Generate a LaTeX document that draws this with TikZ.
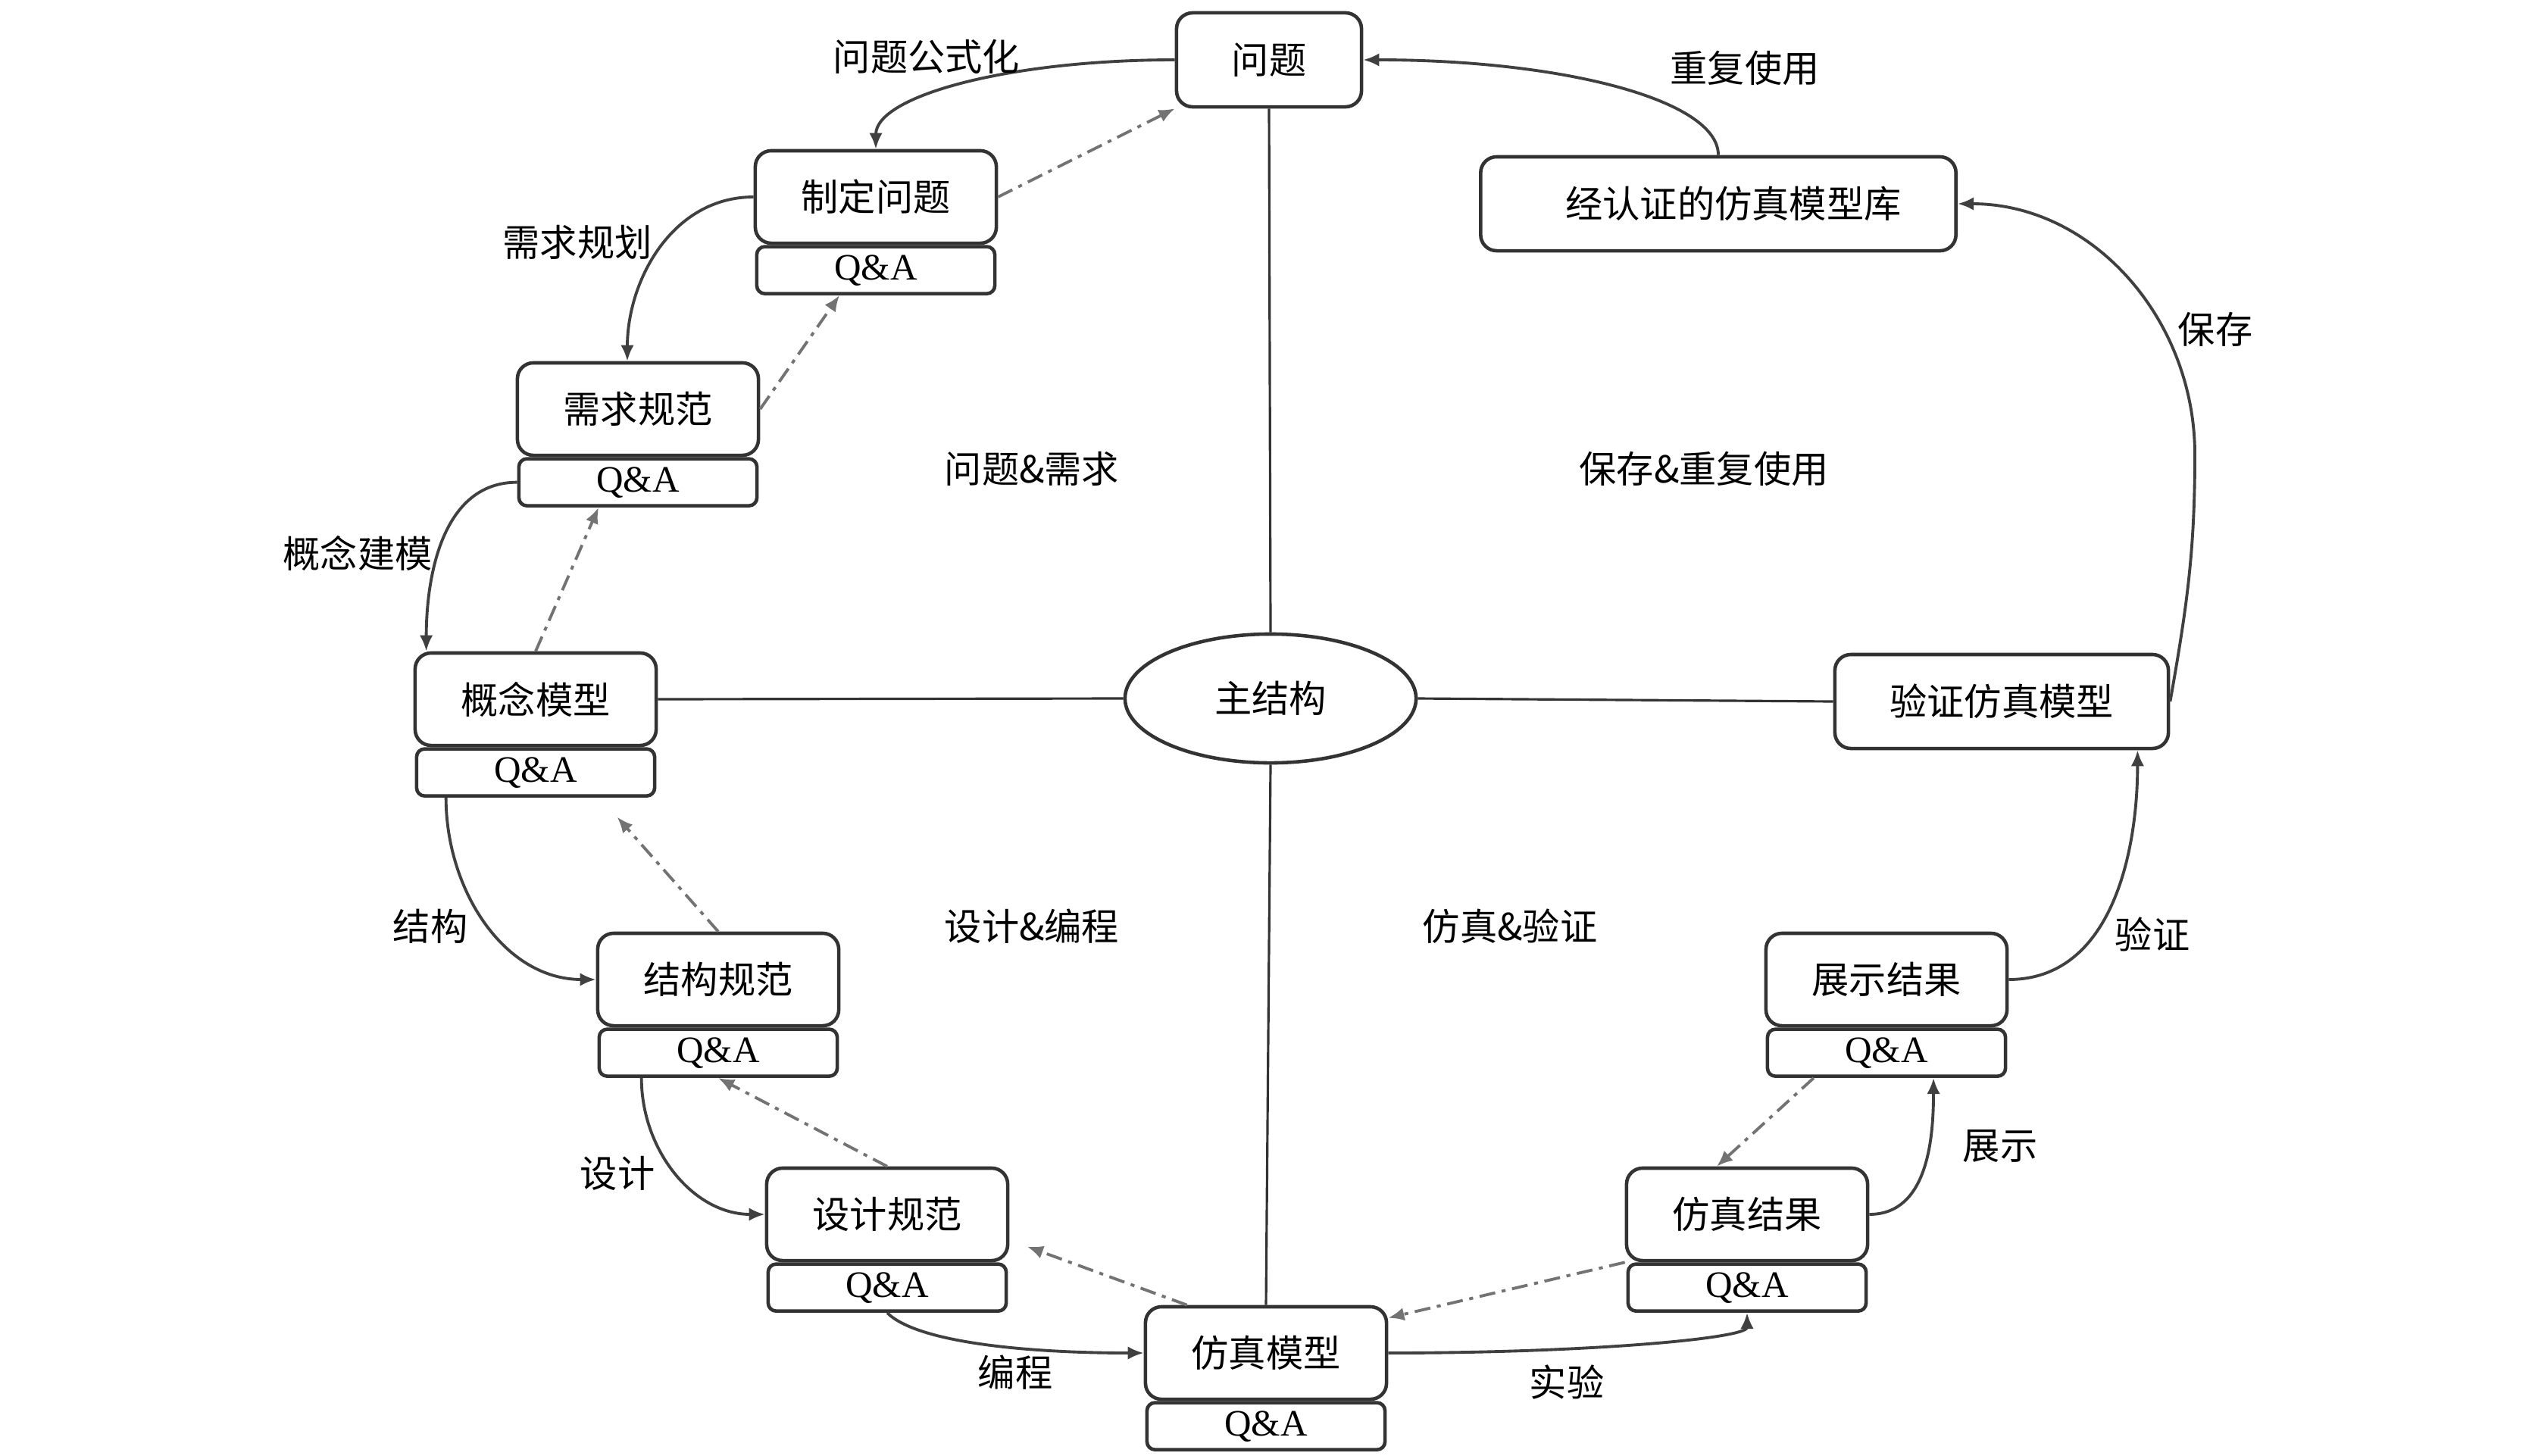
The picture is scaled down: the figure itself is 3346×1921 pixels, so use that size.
\documentclass[tikz,border=0pt]{standalone}
\usepackage{fontspec}
\usepackage{tikz}
\usetikzlibrary{positioning,shapes.geometric,arrows.meta}
\setmainfont{Liberation Serif}
\newfontfamily\cjkfont{Noto Sans CJK SC}

\tikzset{
  box/.style={draw=black!80, line width=1.3pt, rounded corners=6pt, fill=white,
    minimum width=3.18cm, minimum height=1.22cm, inner sep=0pt,
    font={\cjkfont\fontsize{14pt}{17pt}\selectfont}},
  qa/.style={draw=black!80, line width=1.3pt, rounded corners=3pt, fill=white,
    minimum width=3.14cm, minimum height=0.62cm, inner sep=0pt,
    font={\fontsize{14pt}{17pt}\selectfont}},
  lbl/.style={inner sep=0pt, font={\cjkfont\fontsize{14pt}{17pt}\selectfont}},
  flow/.style={draw=black!75, line width=1.1pt, -{Latex[length=6pt,width=5pt]}},
  back/.style={draw=black!55, line width=1.1pt,
    dash pattern=on 6pt off 2.5pt on 1.5pt off 2.5pt, -{Latex[length=6pt,width=5pt]}},
  axis/.style={draw=black!80, line width=0.9pt}
}

\begin{document}
\begin{tikzpicture}[x=0.01cm,y=-0.01cm]
\useasboundingbox (0,0) rectangle (3346,1921);

% main structure
\node[draw=black!80, line width=1.3pt, ellipse, minimum width=3.84cm, minimum height=1.70cm,
  font={\cjkfont\fontsize{14pt}{17pt}\selectfont}] (zhu) at (1677,922) {主结构};

% boxes
\node[box, minimum width=2.44cm, minimum height=1.24cm] (wenti) at (1675,79) {问题};
\node[box] (zhiding) at (1156,260) {制定问题};
\node[qa, below=0pt of zhiding] (zhidingqa) {Q\&A};
\node[box] (xuqiu) at (842,540) {需求规范};
\node[qa, below=0pt of xuqiu] (xuqiuqa) {Q\&A};
\node[box] (gainian) at (707,923) {概念模型};
\node[qa, below=0pt of gainian] (gainianqa) {Q\&A};
\node[box] (jiegou) at (948,1293) {结构规范};
\node[qa, below=0pt of jiegou] (jiegouqa) {Q\&A};
\node[box] (sheji) at (1171,1603) {设计规范};
\node[qa, below=0pt of sheji] (shejiqa) {Q\&A};
\node[box] (fangzhen) at (1671,1786) {仿真模型};
\node[qa, below=0pt of fangzhen] (fangzhenqa) {Q\&A};
\node[box] (jieguo) at (2306,1603) {仿真结果};
\node[qa, below=0pt of jieguo] (jieguoqa) {Q\&A};
\node[box] (zhanshi) at (2490,1293) {展示结果};
\node[qa, below=0pt of zhanshi] (zhanshiqa) {Q\&A};
\node[box, minimum width=4.40cm, minimum height=1.24cm] (yanzheng) at (2642,926) {验证仿真模型};
\node[box, minimum width=6.27cm, minimum height=1.24cm] (renzheng) at (2268,269) {\hspace{0.4cm}经认证的仿真模型库};

% axes
\draw[axis] (wenti.south) -- (zhu.north);
\draw[axis] (zhu.south) -- (fangzhen.north);
\draw[axis] (gainian.east) -- (zhu.west);
\draw[axis] (zhu.east) -- (yanzheng.west);

% forward flow
\draw[flow] (wenti.west) .. controls +(-219,0) and +(0,-70) .. (zhiding.north);
\draw[flow] (zhiding.west) to[out=180,in=90] ([xshift=-0.14cm]xuqiu.north);
\draw[flow] (xuqiuqa.west) to[out=180,in=90] ([xshift=0.17cm]gainian.north west);
\draw[flow] ([xshift=0.41cm]gainianqa.south west) to[out=-90,in=180] (jiegou.west);
\draw[flow] ([xshift=0.58cm]jiegouqa.south west) to[out=-90,in=180] (sheji.west);
\draw[flow] (shejiqa.south) .. controls +(40,40) and +(-150,0) .. (fangzhen.west);
\draw[flow] (fangzhen.east) .. controls +(262,0) and +(0,34) .. (jieguoqa.south);
\draw[flow] (jieguo.east) to[out=0,in=-90] ([xshift=0.62cm]zhanshiqa.south);
\draw[flow] (zhanshi.east) to[out=0,in=-90] ([xshift=-0.43cm]yanzheng.south east);
\draw[flow] (yanzheng.east) to[out=80,in=-90] (2897,600) to[out=90,in=0] (renzheng.east);
\draw[flow] (renzheng.north) .. controls +(0,-73) and +(262,0) .. (wenti.east);

% feedback
\draw[back] (zhiding.east) -- (wenti.south west);
\draw[back] (xuqiu.east) -- ([xshift=-0.48cm]zhidingqa.south);
\draw[back] (gainian.north) -- ([xshift=-0.52cm]xuqiuqa.south);
\draw[back, shorten >=0.34cm] (jiegou.north) -- ([xshift=0.85cm]gainianqa.south);
\draw[back] (sheji.north) -- (jiegouqa.south);
\draw[back, shorten >=0.25cm] ([xshift=0.57cm]fangzhen.north west) -- ([yshift=-0.34cm]sheji.east);
\draw[back] (jieguo.south west) -- ([yshift=-0.17cm]fangzhen.north east);
\draw[back] ([xshift=-0.96cm]zhanshiqa.south) -- ([xshift=-0.4cm]jieguo.north);

% labels
\node[lbl] (l1) at (1223,75) {问题公式化};
\node[lbl] (l2) at (2303,90) {重复使用};
\node[lbl] (l3) at (762,320) {需求规划};
\node[lbl] (l4) at (472,730) {概念建模};
\node[lbl] (l5) at (1362,619) {问题\&需求};
\node[lbl] (l6) at (2249,619) {保存\&重复使用};
\node[lbl] (l7) at (2924,435) {保存};
\node[lbl] (l8) at (568,1223) {结构};
\node[lbl] (l9) at (1362,1223) {设计\&编程};
\node[lbl] (l10) at (1993,1223) {仿真\&验证};
\node[lbl] (l11) at (2841,1233) {验证};
\node[lbl] (l12) at (815,1549) {设计};
\node[lbl] (l13) at (2640,1513) {展示};
\node[lbl] (l14) at (1340,1812) {编程};
\node[lbl] (l15) at (2068,1825) {实验};
\end{tikzpicture}
\end{document}
